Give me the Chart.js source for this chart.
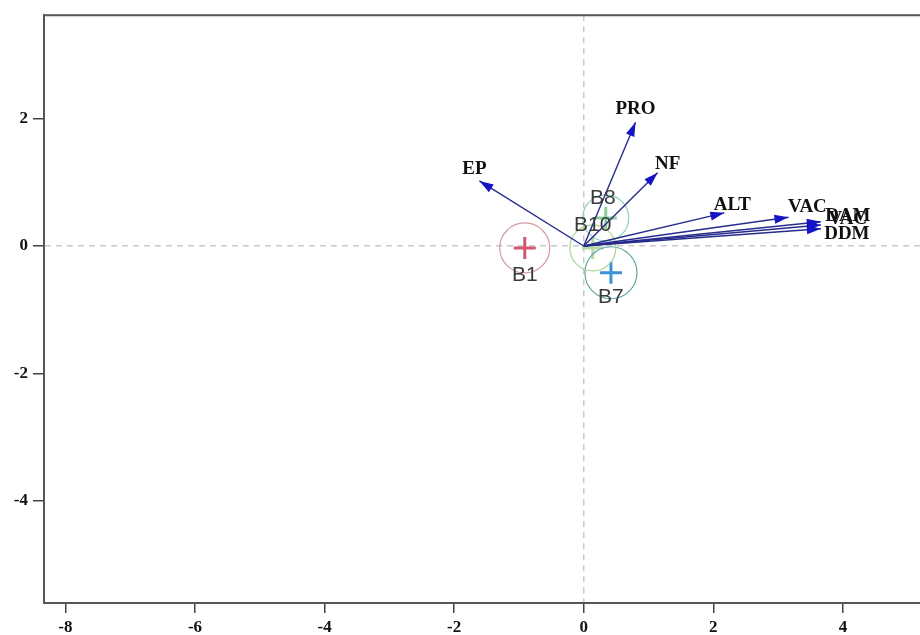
<!DOCTYPE html>
<html>
<head>
<meta charset="utf-8">
<script src="https://cdn.jsdelivr.net/npm/chart.js@4"></script>
<style>
  html, body { margin: 0; padding: 0; background: #fff; }
  #wrap { width: 920px; height: 635px; }
</style>
</head>
<body>
<div id="wrap"><canvas id="biplot"></canvas></div>
<script>
// variable vectors (arrows from origin)
var varNames = ['EP', 'PRO', 'NF', 'ALT', 'VAC', 'DAM', 'VAC', 'DDM'];
var varX = [-1.61, 0.80, 1.14, 2.17, 3.16, 3.66, 3.66, 3.66];
var varY = [1.02, 1.94, 1.15, 0.52, 0.45, 0.38, 0.33, 0.27];

// group centroids
var groupNames = ['B1', 'B7', 'B8', 'B10'];
var groupX = [-0.91, 0.42, 0.34, 0.14];
var groupY = [-0.03, -0.42, 0.44, -0.03];

// tick labels
var xTicks = [-8, -6, -4, -2, 0, 2, 4];
var yTicks = [-4, -2, 0, 2];

// label offsets in px (text centre relative to the arrow tip / centroid)
var varLabelOff = [[-5, -12], [0, -13], [10, -9], [8, -8], [19, -10], [27, -6], [27, -6], [26, 5]];
var groupLabelOff = [[0, 27], [0, 24], [-3, -20], [0, -23]];
var circleColors = ['#d49a9e', '#5aa7a6', '#8fd0c6', '#a9d69a'];
var crossColors = ['#d5566c', '#3a93d6', '#8ccf9a', '#b5dba5'];

var arrowLine = '#262c8c';
var arrowHead = '#1414c4';

var datasets = [];
for (var i = 0; i < varNames.length; i++) {
  datasets.push({
    data: [{x: 0, y: 0}, {x: varX[i], y: varY[i]}],
    showLine: true,
    borderColor: arrowLine,
    borderWidth: 1.4,
    pointRadius: 0
  });
}
var groupPts = groupX.map(function (x, i) { return {x: x, y: groupY[i]}; });
datasets.push({
  data: groupPts,
  pointStyle: 'circle',
  pointRadius: [25, 26, 23, 23],
  backgroundColor: 'rgba(0,0,0,0)',
  borderColor: circleColors,
  borderWidth: 1.2
});
datasets.push({
  data: groupPts,
  pointStyle: 'cross',
  pointRadius: 11,
  borderColor: crossColors,
  borderWidth: 3
});

var overlay = {
  id: 'overlay',
  afterDatasetsDraw: function (chart) {
    var ctx = chart.ctx, xs = chart.scales.x, ys = chart.scales.y, a = chart.chartArea;
    ctx.save();
    // top frame line
    ctx.strokeStyle = '#555';
    ctx.lineWidth = 2;
    ctx.beginPath();
    ctx.moveTo(a.left, a.top);
    ctx.lineTo(a.right, a.top);
    ctx.stroke();

    // arrow heads + variable labels
    for (var i = 0; i < varNames.length; i++) {
      var x0 = xs.getPixelForValue(0), y0 = ys.getPixelForValue(0);
      var x1 = xs.getPixelForValue(varX[i]), y1 = ys.getPixelForValue(varY[i]);
      var ang = Math.atan2(y1 - y0, x1 - x0);
      ctx.save();
      ctx.translate(x1, y1);
      ctx.rotate(ang);
      ctx.fillStyle = arrowHead;
      ctx.beginPath();
      ctx.moveTo(0, 0);
      ctx.lineTo(-14, -4.5);
      ctx.lineTo(-14, 4.5);
      ctx.closePath();
      ctx.fill();
      ctx.restore();

      ctx.fillStyle = '#111';
      ctx.font = 'bold 19px "Liberation Serif", serif';
      ctx.textAlign = 'center';
      ctx.textBaseline = 'middle';
      ctx.fillText(varNames[i], x1 + varLabelOff[i][0], y1 + varLabelOff[i][1]);
    }

    // group labels
    ctx.font = '21px "Liberation Sans", sans-serif';
    ctx.fillStyle = '#3a3a3a';
    for (var j = 0; j < groupNames.length; j++) {
      var gx = xs.getPixelForValue(groupX[j]), gy = ys.getPixelForValue(groupY[j]);
      ctx.fillText(groupNames[j], gx + groupLabelOff[j][0], gy + groupLabelOff[j][1]);
    }
    ctx.restore();
  }
};

function zeroGrid(c) { return c.tick && c.tick.value === 0 ? '#c9c9c9' : 'rgba(0,0,0,0)'; }

var tickFont = {family: '"Liberation Serif", serif', size: 17, weight: 'bold'};

new Chart(document.getElementById('biplot'), {
  type: 'scatter',
  data: {datasets: datasets},
  options: {
    responsive: true,
    maintainAspectRatio: false,
    animation: false,
    layout: {autoPadding: false, padding: {top: 13, right: 0, left: 0, bottom: 0}},
    plugins: {legend: {display: false}, tooltip: {enabled: false}},
    scales: {
      x: {
        type: 'linear',
        min: -8.33,
        max: 5.19,
        afterBuildTicks: function (s) { s.ticks = xTicks.map(function (v) { return {value: v}; }); },
        afterFit: function (s) { s.height = 32; },
        border: {display: true, color: '#555', width: 2, dash: [6, 5]},
        grid: {
          color: zeroGrid, lineWidth: 1.5,
          drawTicks: true, tickLength: 10, tickColor: '#444', tickWidth: 1.5, tickBorderDash: []
        },
        ticks: {color: '#111', font: tickFont, padding: 4, maxRotation: 0, autoSkip: false}
      },
      y: {
        type: 'linear',
        min: -5.6,
        max: 3.62,
        afterBuildTicks: function (s) { s.ticks = yTicks.map(function (v) { return {value: v}; }); },
        afterFit: function (s) { s.width = 44; },
        border: {display: true, color: '#555', width: 2, dash: [6, 5]},
        grid: {
          color: zeroGrid, lineWidth: 1.5,
          drawTicks: true, tickLength: 11, tickColor: '#444', tickWidth: 1.5, tickBorderDash: []
        },
        ticks: {color: '#111', font: tickFont, padding: 5, autoSkip: false}
      }
    }
  },
  plugins: [overlay]
});
</script>
</body>
</html>
